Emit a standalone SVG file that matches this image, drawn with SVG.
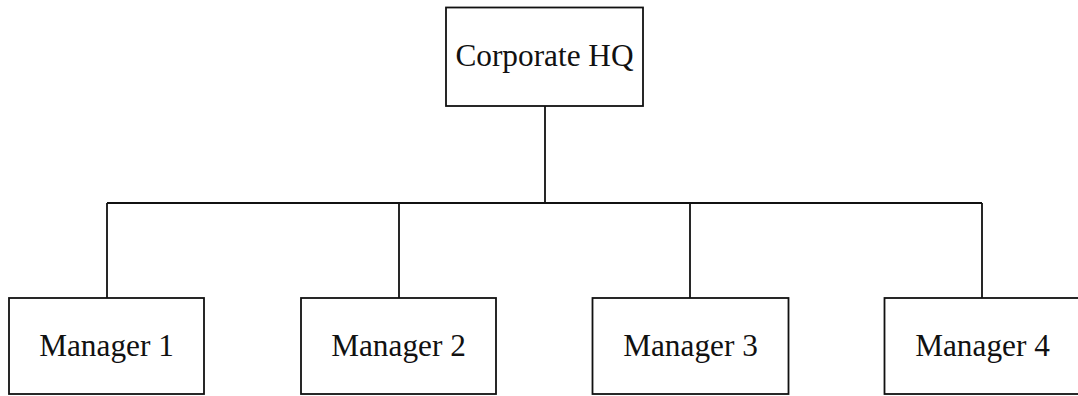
<svg xmlns="http://www.w3.org/2000/svg" width="1078" height="396" viewBox="0 0 1078 396">
<style>
.box{fill:#fff;stroke:#111;stroke-width:1.8}
.lbl{font-family:"Liberation Serif","DejaVu Serif",serif;font-size:31.3px;fill:#111;text-anchor:middle}
.con{fill:none;stroke:#111;stroke-width:1.8}
</style>
<rect width="1078" height="396" fill="#fff"/>
<g id="connectors">
<path class="con" d="M545 106V203M107 203H982M107 203V298M399 203V298M690 203V298M982 203V298"/>
</g>
<g id="hq"><rect class="box" x="446" y="7.5" width="197" height="98.5"/><text class="lbl" x="544.5" y="65.5">Corporate HQ</text></g>
<g id="m1"><rect class="box" x="9" y="298" width="195" height="96"/><text class="lbl" x="106.5" y="356">Manager 1</text></g>
<g id="m2"><rect class="box" x="301" y="298" width="195" height="96"/><text class="lbl" x="398.5" y="356">Manager 2</text></g>
<g id="m3"><rect class="box" x="592.5" y="298" width="196" height="96"/><text class="lbl" x="690.5" y="356">Manager 3</text></g>
<g id="m4"><rect class="box" x="884.5" y="298" width="196" height="96"/><text class="lbl" x="982.5" y="356">Manager 4</text></g>
</svg>
